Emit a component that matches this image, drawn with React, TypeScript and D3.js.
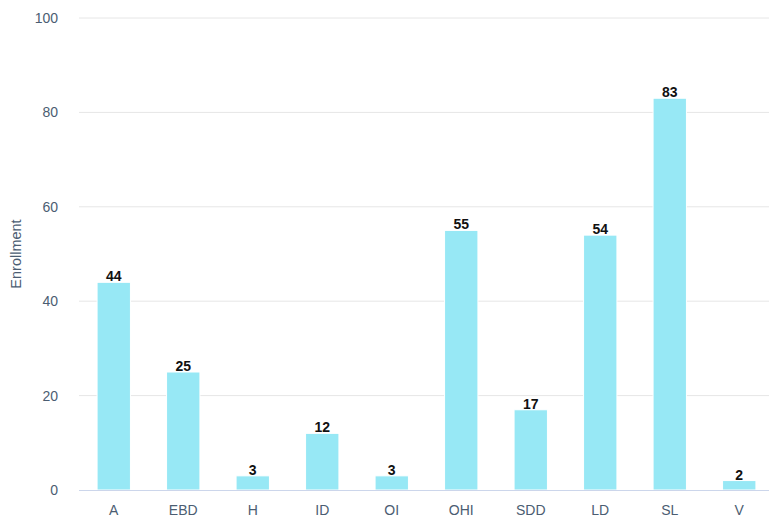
import React, { useEffect, useRef } from 'react';
import * as d3 from 'd3';

const categories = ['A', 'EBD', 'H', 'ID', 'OI', 'OHI', 'SDD', 'LD', 'SL', 'V'];
const enrollment = [44, 25, 3, 12, 3, 55, 17, 54, 83, 2];
const yTicks = [0, 20, 40, 60, 80, 100];

export default function App() {
  const ref = useRef<SVGSVGElement | null>(null);

  useEffect(() => {
    const svg = d3.select(ref.current);
    svg.selectAll('*').remove();

    const width = 769;
    const height = 519;
    const font = '"Liberation Sans", Arial, sans-serif';
    const labelColor = '#4b5d72';

    const x = d3.scaleBand<string>()
      .domain(categories)
      .range([79, 774])
      .paddingInner(0.52)
      .paddingOuter(0.26);

    const y = d3.scaleLinear()
      .domain([0, 100])
      .range([490, 18]);

    // gridlines
    svg.append('g')
      .selectAll('line')
      .data(yTicks.filter(t => t > 0))
      .enter()
      .append('line')
      .attr('x1', 79)
      .attr('x2', width)
      .attr('y1', d => y(d))
      .attr('y2', d => y(d))
      .attr('stroke', '#e6e6e6')
      .attr('stroke-width', 1);

    // y labels
    svg.append('g')
      .selectAll('text')
      .data(yTicks)
      .enter()
      .append('text')
      .attr('x', 58)
      .attr('y', d => y(d))
      .attr('dy', '0.35em')
      .attr('text-anchor', 'end')
      .attr('font-family', font)
      .attr('font-size', 14)
      .attr('fill', labelColor)
      .text(d => d);

    svg.append('text')
      .attr('transform', `translate(21,${(y(0) + y(100)) / 2}) rotate(-90)`)
      .attr('text-anchor', 'middle')
      .attr('font-family', font)
      .attr('font-size', 14.5)
      .attr('fill', labelColor)
      .text('Enrollment');

    // bars
    svg.append('g')
      .selectAll('rect')
      .data(enrollment)
      .enter()
      .append('rect')
      .attr('x', (d, i) => x(categories[i]) as number)
      .attr('y', d => y(d))
      .attr('width', x.bandwidth())
      .attr('height', d => y(0) - y(d))
      .attr('fill', '#97e8f5')
      .attr('stroke', '#ffffff')
      .attr('stroke-width', 1);

    // data labels
    svg.append('g')
      .selectAll('text')
      .data(enrollment)
      .enter()
      .append('text')
      .attr('x', (d, i) => (x(categories[i]) as number) + x.bandwidth() / 2)
      .attr('y', d => y(d) - 1)
      .attr('text-anchor', 'middle')
      .attr('font-family', font)
      .attr('font-size', 14)
      .attr('font-weight', 'bold')
      .attr('fill', '#111')
      .text(d => d);

    // x axis line
    svg.append('line')
      .attr('x1', 79)
      .attr('x2', width)
      .attr('y1', y(0) + 0.5)
      .attr('y2', y(0) + 0.5)
      .attr('stroke', '#ccd6eb')
      .attr('stroke-width', 1);

    // x labels
    svg.append('g')
      .selectAll('text')
      .data(categories)
      .enter()
      .append('text')
      .attr('x', d => (x(d) as number) + x.bandwidth() / 2)
      .attr('y', 515)
      .attr('text-anchor', 'middle')
      .attr('font-family', font)
      .attr('font-size', 14)
      .attr('fill', labelColor)
      .text(d => d);

    svg.attr('width', width).attr('height', height);
  }, []);

  return (
    <svg
      ref={ref}
      width={769}
      height={519}
      style={{ position: 'absolute', left: 0, top: 0, background: '#fff' }}
    />
  );
}
